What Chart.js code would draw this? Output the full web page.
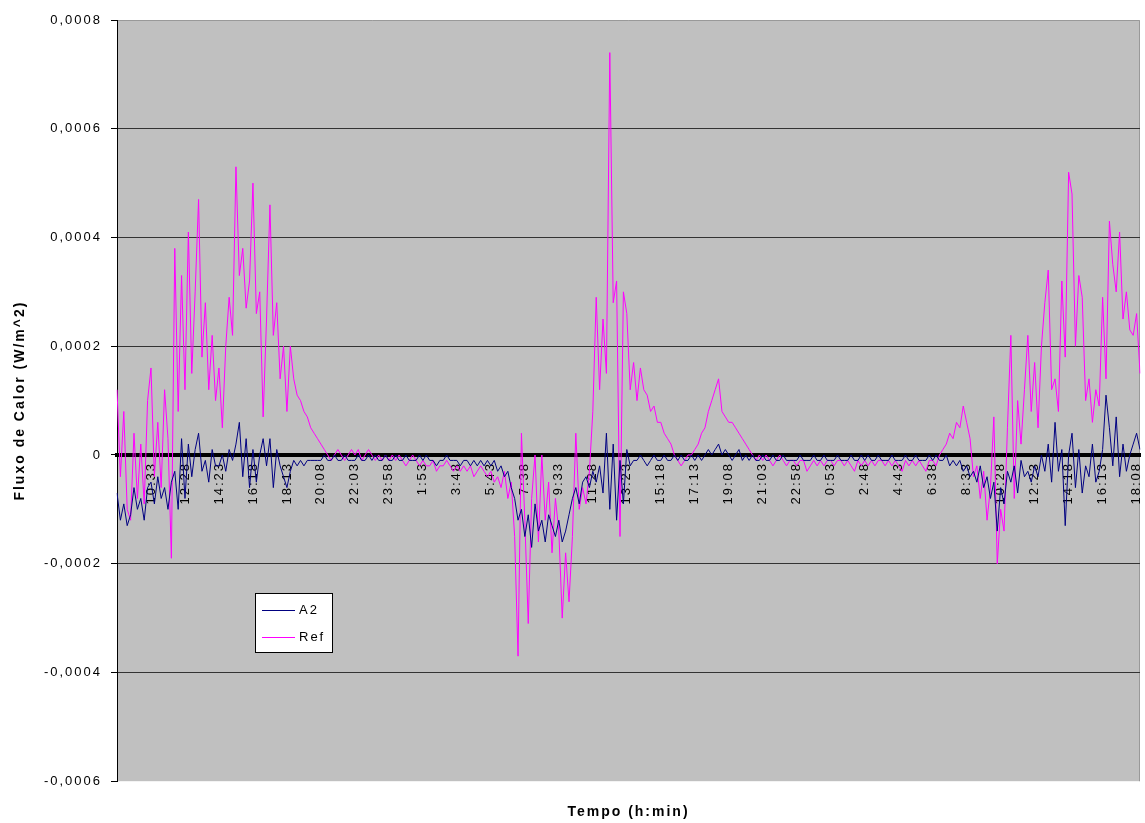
<!DOCTYPE html>
<html lang="pt">
<head>
    <meta charset="UTF-8">
    <title>Fluxo de Calor</title>
    <script src="https://cdn.jsdelivr.net/npm/chart.js"></script>
    <style>
        body { margin: 0; background: #fff; }
        canvas { display: block; }
    </style>
</head>
<body>
    <canvas id="fluxChart" width="1145" height="823"></canvas>

    <script>
        // Heat flux readings (W/m^2), one point every 11.5 min starting 8:38
        const a2Values = [
            -7e-5, -12e-5, -9e-5, -13e-5, -11e-5, -6e-5, -10e-5, -8e-5, -12e-5, -6e-5,
            -5e-5, -9e-5, -4e-5, -8e-5, -6e-5, -10e-5, -5e-5, -3e-5, -10e-5, 3e-5,
            -8e-5, 2e-5, -4e-5, 1e-5, 4e-5, -3e-5, -1e-5, -5e-5, 1e-5, -2e-5,
            -2e-5, 0, -3e-5, 1e-5, -1e-5, 2e-5, 6e-5, -4e-5, 3e-5, -6e-5,
            1e-5, -5e-5, 0, 3e-5, -2e-5, 3e-5, -6e-5, 1e-5, -2e-5, -4e-5,
            -6e-5, -3e-5, -1e-5, -2e-5, -1e-5, -2e-5, -1e-5, -1e-5, -1e-5, -1e-5,
            -1e-5, 0, -1e-5, -1e-5, 0, -1e-5, -1e-5, 0, -1e-5, -1e-5,
            -1e-5, 0, -1e-5, -1e-5, 0, -1e-5, 0, -1e-5, -1e-5, 0,
            -1e-5, -1e-5, 0, -1e-5, -1e-5, 0, -1e-5, -1e-5, -1e-5, 0,
            -1e-5, 0, -1e-5, -1e-5, -2e-5, -1e-5, -1e-5, 0, -1e-5, -1e-5,
            -1e-5, -2e-5, -1e-5, -1e-5, -2e-5, -1e-5, -2e-5, -1e-5, -2e-5, -1e-5,
            -2e-5, -1e-5, -3e-5, -2e-5, -4e-5, -3e-5, -6e-5, -8e-5, -12e-5, -10e-5,
            -15e-5, -11e-5, -17e-5, -9e-5, -14e-5, -12e-5, -16e-5, -11e-5, -13e-5, -15e-5,
            -12e-5, -16e-5, -14e-5, -11e-5, -8e-5, -6e-5, -9e-5, -5e-5, -4e-5, -6e-5,
            -3e-5, -5e-5, -2e-5, -7e-5, 4e-5, -10e-5, 2e-5, -12e-5, -1e-5, -9e-5,
            1e-5, -2e-5, -1e-5, -1e-5, 0, -1e-5, -2e-5, -1e-5, 0, -1e-5,
            -1e-5, 0, -1e-5, -1e-5, 0, -1e-5, 0, -1e-5, -1e-5, 0,
            -1e-5, 0, -1e-5, 0, 1e-5, 0, 1e-5, 2e-5, 0, 1e-5,
            0, -1e-5, 0, 1e-5, -1e-5, 0, -1e-5, 0, -1e-5, -1e-5,
            0, -1e-5, -1e-5, 0, -1e-5, -1e-5, 0, -1e-5, -1e-5, -1e-5,
            -1e-5, 0, -1e-5, -1e-5, -1e-5, 0, -1e-5, -1e-5, 0, -1e-5,
            -1e-5, -1e-5, 0, -1e-5, -1e-5, -1e-5, 0, -1e-5, -1e-5, 0,
            -1e-5, 0, -1e-5, -1e-5, 0, -1e-5, -1e-5, -1e-5, 0, -1e-5,
            -1e-5, -1e-5, 0, -1e-5, -1e-5, 0, -1e-5, -1e-5, -1e-5, 0,
            -1e-5, 0, -1e-5, -1e-5, 0, -2e-5, -1e-5, -2e-5, -1e-5, -3e-5,
            -2e-5, -4e-5, -3e-5, -5e-5, -2e-5, -6e-5, -4e-5, -8e-5, -5e-5, -14e-5,
            -6e-5, -9e-5, -3e-5, -5e-5, -2e-5, -7e-5, -1e-5, -4e-5, -3e-5, -5e-5,
            -2e-5, -4e-5, 0, -3e-5, 2e-5, -5e-5, 6e-5, -3e-5, 1e-5, -13e-5,
            0, 4e-5, -6e-5, 1e-5, -7e-5, -2e-5, -4e-5, 2e-5, -5e-5, -3e-5,
            1e-5, 11e-5, 5e-5, -2e-5, 7e-5, -4e-5, 2e-5, -3e-5, 0, 2e-5,
            4e-5, 1e-5
        ];

        const refValues = [
            12e-5, -4e-5, 8e-5, -10e-5, -12e-5, 4e-5, -8e-5, 2e-5, -9e-5, 10e-5,
            16e-5, -4e-5, 6e-5, -6e-5, 12e-5, 3e-5, -19e-5, 38e-5, 8e-5, 33e-5,
            12e-5, 41e-5, 15e-5, 30e-5, 47e-5, 18e-5, 28e-5, 12e-5, 22e-5, 10e-5,
            16e-5, 5e-5, 20e-5, 29e-5, 22e-5, 53e-5, 33e-5, 38e-5, 27e-5, 32e-5,
            50e-5, 26e-5, 30e-5, 7e-5, 25e-5, 46e-5, 22e-5, 28e-5, 14e-5, 20e-5,
            8e-5, 20e-5, 14e-5, 11e-5, 10e-5, 8e-5, 7e-5, 5e-5, 4e-5, 3e-5,
            2e-5, 1e-5, 0, -1e-5, 0, 1e-5, 0, -1e-5, 0, 1e-5,
            0, 1e-5, -1e-5, 0, 1e-5, 0, -1e-5, 0, -1e-5, 0,
            -1e-5, 0, -1e-5, 0, -1e-5, -2e-5, -1e-5, 0, -1e-5, -2e-5,
            -1e-5, -2e-5, -2e-5, -1e-5, -3e-5, -2e-5, -2e-5, -1e-5, -2e-5, -3e-5,
            -2e-5, -3e-5, -2e-5, -3e-5, -2e-5, -4e-5, -3e-5, -2e-5, -3e-5, -4e-5,
            -3e-5, -5e-5, -4e-5, -6e-5, -3e-5, -8e-5, -5e-5, -15e-5, -37e-5, 4e-5,
            -12e-5, -31e-5, -8e-5, 0, -16e-5, 0, -12e-5, -5e-5, -18e-5, -8e-5,
            -14e-5, -30e-5, -18e-5, -27e-5, -15e-5, 4e-5, -10e-5, -6e-5, -9e-5, -3e-5,
            8e-5, 29e-5, 12e-5, 25e-5, 15e-5, 74e-5, 28e-5, 32e-5, -15e-5, 30e-5,
            26e-5, 12e-5, 17e-5, 10e-5, 16e-5, 12e-5, 11e-5, 8e-5, 9e-5, 6e-5,
            6e-5, 4e-5, 3e-5, 2e-5, 0, -1e-5, -2e-5, -1e-5, 0, 0,
            1e-5, 2e-5, 4e-5, 5e-5, 8e-5, 10e-5, 12e-5, 14e-5, 8e-5, 7e-5,
            6e-5, 6e-5, 5e-5, 4e-5, 3e-5, 2e-5, 1e-5, 0, -1e-5, 0,
            -1e-5, 0, -1e-5, -2e-5, -1e-5, 0, -1e-5, -2e-5, -1e-5, -1e-5,
            -2e-5, -1e-5, -1e-5, -3e-5, -2e-5, -1e-5, -2e-5, -1e-5, -2e-5, -1e-5,
            -1e-5, -2e-5, -1e-5, -1e-5, -2e-5, -1e-5, -2e-5, -3e-5, -1e-5, -2e-5,
            -1e-5, -2e-5, -1e-5, -2e-5, -1e-5, -1e-5, -2e-5, -1e-5, -2e-5, -1e-5,
            -2e-5, -3e-5, -1e-5, -2e-5, -1e-5, -2e-5, -1e-5, -2e-5, -3e-5, -1e-5,
            -1e-5, -2e-5, 0, 1e-5, 2e-5, 4e-5, 3e-5, 6e-5, 5e-5, 9e-5,
            6e-5, 3e-5, -4e-5, -2e-5, -8e-5, -3e-5, -12e-5, -6e-5, 7e-5, -20e-5,
            -10e-5, -14e-5, 5e-5, 22e-5, -8e-5, 10e-5, 2e-5, 12e-5, 22e-5, 8e-5,
            17e-5, 5e-5, 20e-5, 28e-5, 34e-5, 12e-5, 14e-5, 8e-5, 32e-5, 18e-5,
            52e-5, 48e-5, 20e-5, 33e-5, 29e-5, 10e-5, 14e-5, 6e-5, 12e-5, 9e-5,
            29e-5, 14e-5, 43e-5, 35e-5, 30e-5, 41e-5, 25e-5, 30e-5, 23e-5, 22e-5,
            26e-5, 15e-5
        ];

        // time labels shown on the axis, one every 10 points (1h55)
        const tickLabels = ['10:33', '12:28', '14:23', '16:18', '18:13', '20:08', '22:03', '23:58',
            '1:53', '3:48', '5:43', '7:38', '9:33', '11:28', '13:23', '15:18', '17:13', '19:08',
            '21:03', '22:58', '0:53', '2:48', '4:43', '6:38', '8:33', '10:28', '12:23', '14:18',
            '16:13', '18:08'];

        const yTicks = { min: -0.0006, max: 0.0008, step: 0.0002 };

        const categories = refValues.map((_, i) => (i > 0 && i % 10 === 0) ? tickLabels[i / 10 - 1] : '');

        Chart.defaults.font.family = "'Liberation Sans', Arial, sans-serif";
        Chart.defaults.font.size = 13;
        Chart.defaults.color = '#000';

        const spacing = '2px';

        // Excel-like grey plot area + wide text
        const plotArea = {
            id: 'plotArea',
            beforeUpdate(chart) { chart.ctx.letterSpacing = spacing; },
            beforeDraw(chart) {
                const { ctx, chartArea: a } = chart;
                ctx.letterSpacing = spacing;
                ctx.save();
                ctx.fillStyle = '#c0c0c0';
                ctx.fillRect(a.left, a.top, a.right - a.left, a.bottom - a.top);
                ctx.strokeStyle = '#999';
                ctx.lineWidth = 1;
                ctx.beginPath();
                ctx.moveTo(a.left, a.top + 0.5);
                ctx.lineTo(a.right - 0.5, a.top + 0.5);
                ctx.lineTo(a.right - 0.5, a.bottom);
                ctx.stroke();
                ctx.restore();
            }
        };

        // boxed legend sitting inside the plot area
        const boxLegend = {
            id: 'boxLegend',
            afterDraw(chart) {
                const { ctx, chartArea: a } = chart;
                const x = a.left + 138, y = a.top + 573, w = 77, h = 59;
                ctx.save();
                ctx.letterSpacing = spacing;
                ctx.fillStyle = '#fff';
                ctx.fillRect(x, y, w, h);
                ctx.strokeStyle = '#000';
                ctx.lineWidth = 1;
                ctx.strokeRect(x + 0.5, y + 0.5, w, h);
                ctx.font = "13px 'Liberation Sans', Arial, sans-serif";
                ctx.textBaseline = 'middle';
                chart.data.datasets.forEach((ds, i) => {
                    const ly = y + 17 + i * 27;
                    ctx.strokeStyle = ds.borderColor;
                    ctx.beginPath();
                    ctx.moveTo(x + 7, ly + 0.5);
                    ctx.lineTo(x + 40, ly + 0.5);
                    ctx.stroke();
                    ctx.fillStyle = '#000';
                    ctx.fillText(ds.label, x + 44, ly);
                });
                ctx.restore();
            }
        };

        const noSidePadding = s => { s.paddingLeft = 0; s.paddingRight = 0; };

        new Chart(document.getElementById('fluxChart'), {
            type: 'line',
            data: {
                labels: categories,
                datasets: [
                    { label: 'A2', data: a2Values, borderColor: '#000080', borderWidth: 1, pointRadius: 0 },
                    { label: 'Ref', data: refValues, borderColor: '#ff00ff', borderWidth: 1, pointRadius: 0 }
                ]
            },
            options: {
                responsive: false,
                animation: false,
                events: [],
                layout: { padding: { top: 20, right: 5, bottom: 0, left: 0 } },
                plugins: {
                    legend: { display: false },
                    tooltip: { enabled: false }
                },
                elements: { line: { tension: 0 } },
                scales: {
                    x: {
                        type: 'category',
                        position: { y: 0 },
                        afterFit(s) { s.height = 0; noSidePadding(s); },
                        grid: { display: false, drawTicks: false },
                        border: { display: true, color: '#000', width: 4 },
                        ticks: {
                            autoSkip: false,
                            minRotation: 90,
                            maxRotation: 90,
                            padding: 7
                        }
                    },
                    xTitle: {
                        type: 'category',
                        labels: categories,
                        position: 'bottom',
                        afterFit: noSidePadding,
                        grid: { display: false, drawTicks: false },
                        border: { display: false },
                        ticks: { display: false },
                        title: {
                            display: true,
                            text: 'Tempo (h:min)',
                            font: { size: 14, weight: 'bold' },
                            padding: { top: 23, bottom: 2 }
                        }
                    },
                    y: {
                        min: yTicks.min,
                        max: yTicks.max,
                        afterFit(s) { s.width = 117; },
                        ticks: {
                            stepSize: yTicks.step,
                            padding: 9,
                            callback: v => Math.abs(v) < 1e-12 ? '0' : v.toFixed(4).replace('.', ',')
                        },
                        grid: {
                            color: c => (c.tick && (Math.abs(c.tick.value - yTicks.max) < 1e-9 || Math.abs(c.tick.value - yTicks.min) < 1e-9)) ? 'rgba(0,0,0,0)' : '#333',
                            tickColor: '#000',
                            tickLength: 6
                        },
                        border: { display: true, color: '#000', width: 1 },
                        title: {
                            display: true,
                            text: 'Fluxo de Calor (W/m^2)',
                            font: { size: 14, weight: 'bold' },
                            padding: { top: 12, bottom: 4 }
                        }
                    }
                }
            },
            plugins: [plotArea, boxLegend]
        });
    </script>
</body>
</html>
